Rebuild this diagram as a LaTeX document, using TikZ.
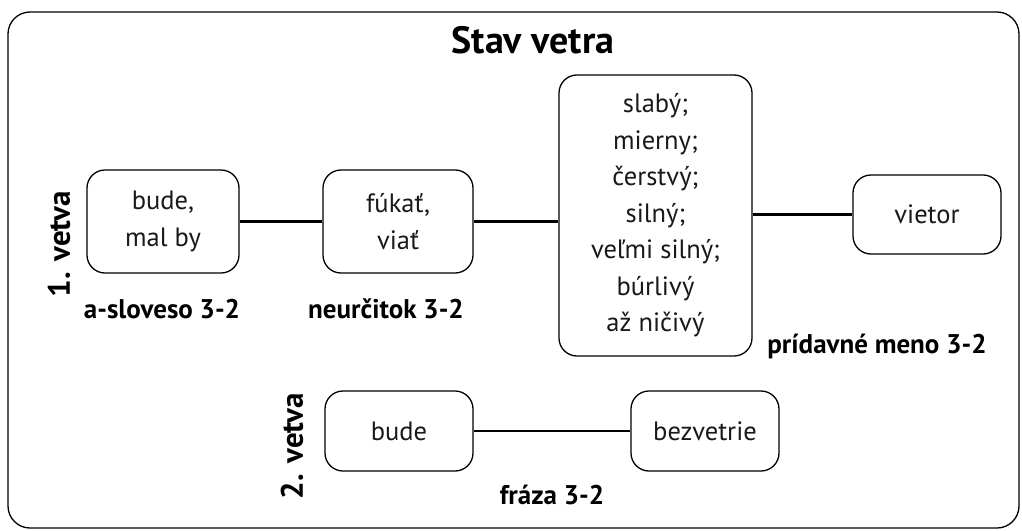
\documentclass[tikz,border=0pt]{standalone}
\usepackage{fontspec}
\setmainfont{PT Sans}
\begin{document}
\begin{tikzpicture}[x=1pt,y=-1pt,
  wbox/.style={draw, line width=1.3pt, rounded corners=18pt, align=center, inner sep=0pt, font=\fontsize{26.5}{36.5}\selectfont, text=black!90},
  lbl/.style={font=\fontsize{27}{30}\selectfont\bfseries},
  vlbl/.style={font=\fontsize{31}{34}\selectfont\bfseries, rotate=90},
  conn/.style={line width=2.2pt}]
\useasboundingbox (0,0) rectangle (1022,530);
\draw[line width=1.3pt, rounded corners=22pt] (8,12) rectangle (1019,528);
\node[font=\fontsize{38}{42}\selectfont\bfseries] (title) at (533,40) {Stav vetra};
\node[wbox, minimum width=152pt, minimum height=103pt] (b1) at (163,221.5) {bude,\\mal by};
\node[wbox, minimum width=150pt, minimum height=103pt] (b2) at (398,221.5) {fúkať,\\viať};
\node[wbox, minimum width=193pt, minimum height=281pt] (b3) at (655.5,215.5) {slabý;\\mierny;\\čerstvý;\\silný;\\veľmi silný;\\búrlivý\\až ničivý};
\node[wbox, minimum width=148pt, minimum height=79pt] (b4) at (927,214.5) {vietor};
\node[wbox, minimum width=148pt, minimum height=80pt] (b5) at (399,431) {bude};
\node[wbox, minimum width=148pt, minimum height=80pt] (b6) at (705,431) {bezvetrie};
\draw[conn] (b1.east) -- (b2.west);
\draw[conn] (b2.east) -- (b2.east -| b3.west);
\draw[conn] (b4.west -| b3.east) -- (b4.west);
\draw[conn] (b5.east) -- (b6.west);
\node[vlbl] (v1) at (59,244) {1. vetva};
\node[vlbl] (v2) at (292,446) {2. vetva};
\node[lbl] (l1) at (162,309) {a-sloveso 3-2};
\node[lbl] (l2) at (386,309) {neurčitok 3-2};
\node[lbl] (l3) at (877,346) {prídavné meno 3-2};
\node[lbl] (l4) at (552,495) {fráza 3-2};
\end{tikzpicture}
\end{document}
